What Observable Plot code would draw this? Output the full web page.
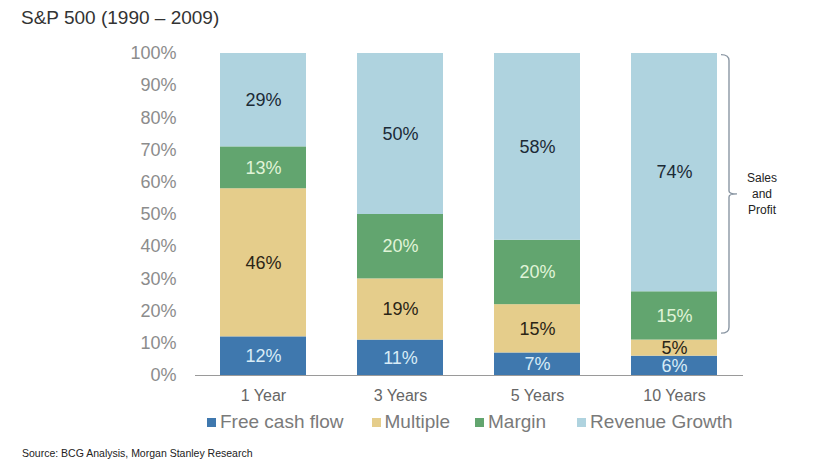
<!DOCTYPE html>
<html>
<head>
<meta charset="utf-8">
<script src="https://cdn.jsdelivr.net/npm/d3@7"></script>
<script src="https://cdn.jsdelivr.net/npm/@observablehq/plot@0.6"></script>
<style>
  html, body { margin: 0; padding: 0; background: #fff; }
  body { width: 815px; height: 467px; overflow: hidden; font-family: "Liberation Sans", Arial, sans-serif; }
  #title { height: 35px; line-height: 35px; padding-left: 21px; font-size: 19px; color: #333; }
  #chart svg { display: block; }
  #legend { height: 34px; line-height: 34px; padding-left: 207px; font-size: 19px; color: #7a7a7a; display: flex; align-items: center; white-space: nowrap; }
  #legend .item { display: inline-flex; align-items: center; }
  #legend .sw { display: inline-block; width: 9px; height: 9px; margin-right: 4px; }
  #source { height: 28px; line-height: 28px; padding-left: 22px; font-size: 10.5px; color: #222; }
</style>
</head>
<body>
<div id="title"></div>
<div id="chart"></div>
<div id="legend"></div>
<div id="source"></div>
<script>
const titleText = "S&P 500 (1990 – 2009)";
const sourceText = "Source: BCG Analysis, Morgan Stanley Research";
const periods = ["1 Year", "3 Years", "5 Years", "10 Years"];
const components = ["Free cash flow", "Multiple", "Margin", "Revenue Growth"];
const freeCashFlow = [12, 11, 7, 6];
const multiple = [46, 19, 15, 5];
const margin = [13, 20, 20, 15];
const revenueGrowth = [29, 50, 58, 74];
const yTicks = [0, 10, 20, 30, 40, 50, 60, 70, 80, 90, 100];
const bracketLabel = ["Sales", "and", "Profit"];
const bracketRange = [13, 99.5];

const barColors = ["#3f78ae", "#e5cd8b", "#62a56f", "#afd3df"];
const labelColors = ["#d8ecf7", "#2b2516", "#e0f4d8", "#1b2a36"];
const legendGaps = [28, 25, 31, 0];

const seriesValues = [freeCashFlow, multiple, margin, revenueGrowth];
const data = [];
periods.forEach((p, i) => {
  components.forEach((c, j) => {
    data.push({period: p, component: c, value: seriesValues[j][i], ci: j});
  });
});

document.getElementById("title").textContent = titleText;
document.getElementById("source").textContent = sourceText;

const chart = Plot.plot({
  width: 815,
  height: 370,
  marginTop: 18,
  marginBottom: 30,
  marginLeft: 195,
  marginRight: 72,
  style: {fontFamily: "'Liberation Sans', Arial, sans-serif", background: "#fff"},
  x: {type: "band", domain: periods, paddingInner: 0.37, paddingOuter: 0.185, label: null},
  y: {domain: [0, 100], label: null},
  color: {type: "identity"},
  marks: [
    Plot.barY(data, {x: "period", y: "value", z: "component", fill: d => barColors[d.ci]}),
    Plot.text(data, Plot.stackY({
      x: "period", y: "value", z: "component",
      text: d => d.value + "%",
      fill: d => labelColors[d.ci],
      fontSize: 18
    })),
    Plot.ruleY([0], {stroke: "#9a9a9a", strokeWidth: 1.2}),
    Plot.axisY({ticks: yTicks, tickFormat: d => d + "%", tickSize: 0, tickPadding: 19, fontSize: 18, fill: "#8c8c8c", label: null}),
    Plot.axisX({tickSize: 0, tickPadding: 14, fontSize: 16, fill: "#666", label: null})
  ]
});
document.getElementById("chart").appendChild(chart);

// Bracket ("Sales and Profit") positioned via the plot's scales
const xs = chart.scale("x"), ys = chart.scale("y");
const last = periods[periods.length - 1];
const bx = xs.apply(last) + xs.bandwidth + 12;
const yTop = ys.apply(bracketRange[1]);
const yBot = ys.apply(bracketRange[0]);
const yMid = (yTop + yBot) / 2;
const svg = d3.select(chart);
svg.append("path")
  .attr("d", `M${bx - 8},${yTop} Q${bx},${yTop} ${bx},${yTop + 6} L${bx},${yMid - 3} Q${bx},${yMid} ${bx + 8},${yMid} Q${bx},${yMid} ${bx},${yMid + 3} L${bx},${yBot - 6} Q${bx},${yBot} ${bx - 8},${yBot}`)
  .attr("fill", "none")
  .attr("stroke", "#8a96a3")
  .attr("stroke-width", 1.4);
const t = svg.append("text")
  .attr("x", bx + 33)
  .attr("y", yMid)
  .attr("text-anchor", "middle")
  .attr("font-size", 12)
  .attr("fill", "#222");
bracketLabel.forEach((s, i) => {
  t.append("tspan").attr("x", bx + 33).attr("dy", i === 0 ? "-0.95em" : "1.3em").text(s);
});

// HTML legend
const legend = document.getElementById("legend");
components.forEach((c, j) => {
  const item = document.createElement("span");
  item.className = "item";
  item.style.marginRight = legendGaps[j] + "px";
  const sw = document.createElement("span");
  sw.className = "sw";
  sw.style.background = barColors[j];
  const lab = document.createElement("span");
  lab.textContent = c;
  item.appendChild(sw);
  item.appendChild(lab);
  legend.appendChild(item);
});
</script>
</body>
</html>
